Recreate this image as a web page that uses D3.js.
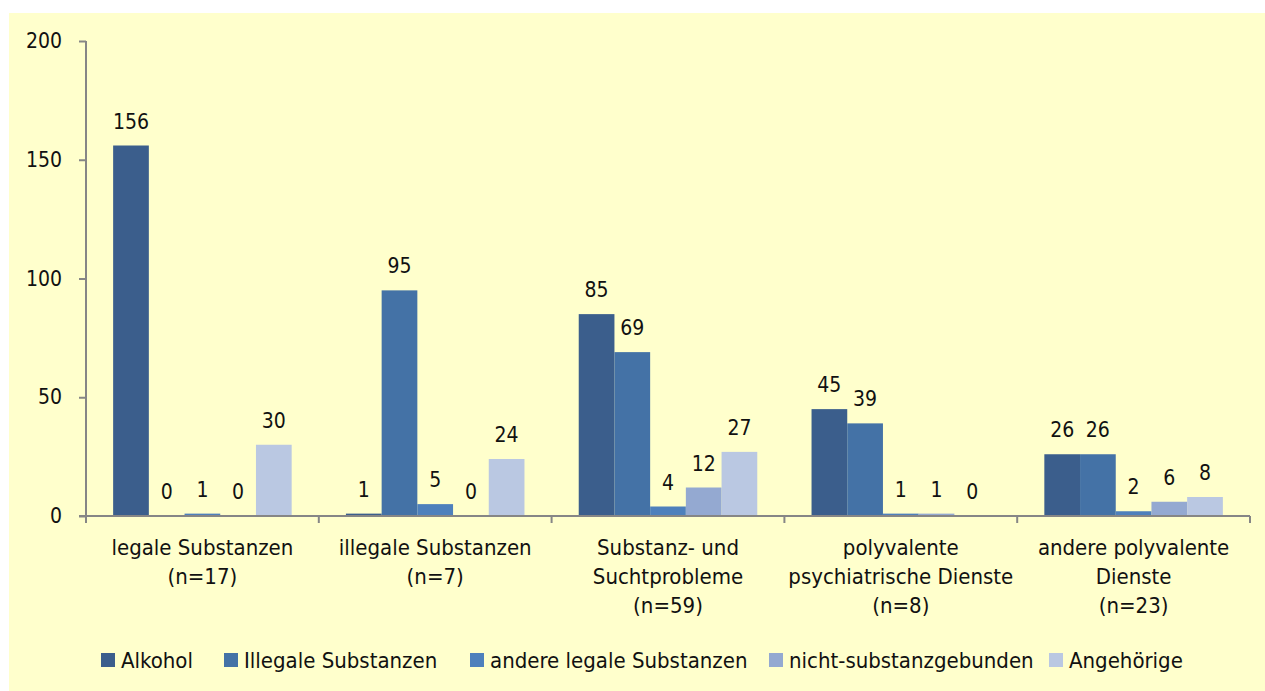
<!DOCTYPE html>
<html lang="de">
<head>
<meta charset="utf-8">
<title>Klienten nach Angebot</title>
<script src="https://d3js.org/d3.v7.min.js"></script>
<style>
  body { margin: 0; background: #fff; }
  text { font-family: "DejaVu Sans Condensed", "DejaVu Sans", sans-serif; fill: #111; }
</style>
</head>
<body>
<div id="chart"></div>
<script>
var categories = [
  ["legale Substanzen", "(n=17)"],
  ["illegale Substanzen", "(n=7)"],
  ["Substanz- und", "Suchtprobleme", "(n=59)"],
  ["polyvalente", "psychiatrische Dienste", "(n=8)"],
  ["andere polyvalente", "Dienste", "(n=23)"]
];
var seriesNames = ["Alkohol", "Illegale Substanzen", "andere legale Substanzen", "nicht-substanzgebunden", "Angehörige"];
var alkohol   = [156, 1, 85, 45, 26];
var illegale  = [0, 95, 69, 39, 26];
var andere    = [1, 5, 4, 1, 2];
var nichtSub  = [0, 0, 12, 1, 6];
var angehoer  = [30, 24, 27, 0, 8];
var yTicks = [0, 50, 100, 150, 200];

var colors = ["#3b5e8c", "#4472a6", "#4e80bc", "#94a9d1", "#bac8e2"];
var series = [alkohol, illegale, andere, nichtSub, angehoer];

var W = 1265, H = 691;
var plotLeft = 86, plotRight = 1250, plotTop = 41, plotBottom = 516;

var svg = d3.select('#chart').append('svg')
  .attr('width', W).attr('height', H);

svg.append('rect')
  .attr('x', 9).attr('y', 13)
  .attr('width', W - 9).attr('height', H - 13)
  .attr('fill', '#ffffcc');

var x0 = d3.scaleBand().domain(d3.range(categories.length))
  .range([plotLeft, plotRight]);
var x1 = d3.scaleBand().domain(d3.range(series.length))
  .range([0, x0.bandwidth()]).paddingOuter(0.76);
var y = d3.scaleLinear().domain([0, 200]).range([plotBottom, plotTop]);

// bars + value labels
categories.forEach(function(c, i) {
  var g = svg.append('g').attr('transform', 'translate(' + x0(i) + ',0)');
  series.forEach(function(s, j) {
    var v = s[i];
    g.append('rect')
      .attr('x', x1(j))
      .attr('y', y(v))
      .attr('width', x1.bandwidth())
      .attr('height', plotBottom - y(v))
      .attr('fill', colors[j]);
    g.append('text')
      .attr('x', x1(j) + x1.bandwidth() / 2)
      .attr('y', y(v) - 17)
      .attr('text-anchor', 'middle')
      .style('font-size', '21px')
      .text(v);
  });
});

// y axis
var yAxis = svg.append('g')
  .attr('transform', 'translate(' + plotLeft + ',0)')
  .call(d3.axisLeft(y).tickValues(yTicks).tickSize(7).tickPadding(17));
yAxis.selectAll('path, line').attr('stroke', '#868686').attr('stroke-width', 2);
yAxis.select('.domain').attr('d', 'M0,' + plotTop + 'V' + plotBottom);
yAxis.selectAll('text').style('font-size', '21px').attr('fill', '#111')
  .style('font-family', '"DejaVu Sans Condensed", sans-serif');

// x axis
var xAxis = svg.append('g').attr('transform', 'translate(0,' + plotBottom + ')');
xAxis.append('line').attr('x1', plotLeft - 7).attr('x2', plotRight)
  .attr('stroke', '#868686').attr('stroke-width', 2);
d3.range(categories.length + 1).forEach(function(i) {
  var xx = i < categories.length ? x0(i) : plotRight;
  xAxis.append('line').attr('x1', xx).attr('x2', xx).attr('y1', 0).attr('y2', 7)
    .attr('stroke', '#868686').attr('stroke-width', 2);
});
categories.forEach(function(lines, i) {
  var t = xAxis.append('text')
    .attr('text-anchor', 'middle')
    .style('font-size', '22px');
  lines.forEach(function(l, k) {
    t.append('tspan')
      .attr('x', x0(i) + x0.bandwidth() / 2)
      .attr('y', 39 + k * 29)
      .text(l);
  });
});

// legend
var legendX = [101, 224, 470, 769, 1049];
seriesNames.forEach(function(n, j) {
  svg.append('rect')
    .attr('x', legendX[j]).attr('y', 653)
    .attr('width', 14).attr('height', 14)
    .attr('fill', colors[j]);
  svg.append('text')
    .attr('x', legendX[j] + 20).attr('y', 668)
    .style('font-size', '22px')
    .text(n);
});
</script>
</body>
</html>
